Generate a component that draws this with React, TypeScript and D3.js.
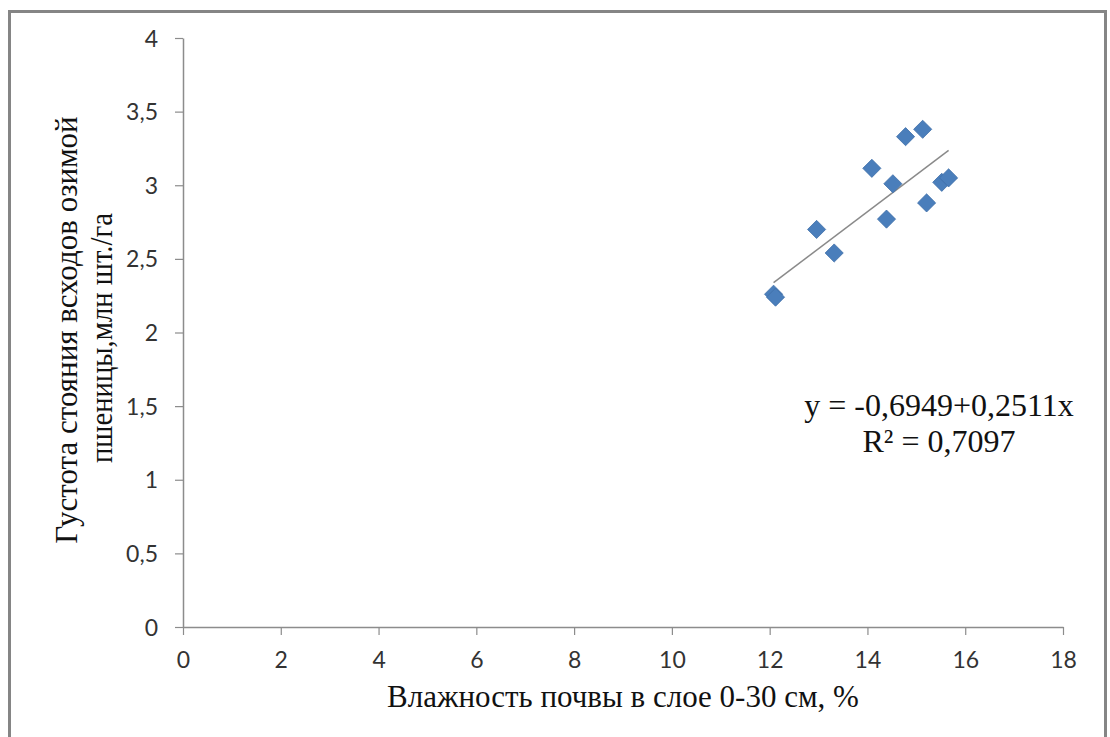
import React, { useEffect, useRef } from "react";
import * as d3 from "d3";

// soil moisture in 0-30 cm layer, %
const moisture = [12.08, 12.12, 12.96, 13.32, 14.09, 14.39, 14.52, 14.78, 15.13, 15.21, 15.52, 15.66];
// winter wheat seedling density, mln/ha
const density = [2.26, 2.24, 2.7, 2.54, 3.115, 2.77, 3.01, 3.33, 3.38, 2.88, 3.02, 3.05];

const xTicks = [0, 2, 4, 6, 8, 10, 12, 14, 16, 18];
const yTicks = [0, 0.5, 1, 1.5, 2, 2.5, 3, 3.5, 4];

const intercept = -0.6949;
const slope = 0.2511;
const eqLines = ["y = -0,6949+0,2511x", "R² = 0,7097"];
const xTitle = "Влажность почвы в слое 0-30 см, %";
const yTitle = ["Густота стояния всходов озимой", "пшеницы,млн шт./га"];

const W = 1110;
const H = 737;
const margin = { left: 183, right: 47, top: 38, bottom: 110 };

const App = () => {
  const ref = useRef(null);

  useEffect(() => {
    const svg = d3.select(ref.current);
    svg.selectAll("*").remove();

    const x = d3.scaleLinear().domain([0, 18]).range([margin.left, W - margin.right]);
    const y = d3.scaleLinear().domain([0, 4]).range([H - margin.bottom, margin.top]);

    svg.append("rect")
      .attr("x", 0).attr("y", 0).attr("width", W).attr("height", H)
      .attr("fill", "#fff");

    // outer frame
    svg.append("rect")
      .attr("x", 9.5).attr("y", 11.5).attr("width", 1096).attr("height", 740)
      .attr("fill", "none")
      .attr("stroke", "#858585")
      .attr("stroke-width", 3);

    const axisColor = "#8c8c8c";

    const xAxis = svg.append("g")
      .attr("transform", `translate(0,${y(0)})`)
      .call(d3.axisBottom(x).tickValues(xTicks).tickSize(8).tickSizeOuter(0).tickFormat(d3.format("d")));
    const yAxis = svg.append("g")
      .attr("transform", `translate(${x(0)},0)`)
      .call(d3.axisLeft(y).tickValues(yTicks).tickSize(8).tickSizeOuter(0)
        .tickFormat((d) => String(d).replace(".", ",")));

    [xAxis, yAxis].forEach((g) => {
      g.attr("font-size", 23).attr("font-family", "Lato, 'Open Sans', sans-serif");
      g.select(".domain").attr("stroke", axisColor).attr("stroke-width", 1.5);
      g.selectAll(".tick line").attr("stroke", axisColor).attr("stroke-width", 1.2);
      g.selectAll(".tick text").attr("fill", "#333");
    });
    xAxis.selectAll(".tick text").attr("y", 20).attr("dy", "0.9em");
    yAxis.selectAll(".tick text").attr("x", -25).attr("dy", "0.35em");

    // trend line
    const xMin = d3.min(moisture);
    const xMax = d3.max(moisture);
    svg.append("line")
      .attr("x1", x(xMin)).attr("y1", y(intercept + slope * xMin))
      .attr("x2", x(xMax)).attr("y2", y(intercept + slope * xMax))
      .attr("stroke", "#8a8a8a")
      .attr("stroke-width", 1.5);

    // markers
    const diamond = d3.symbol().type(d3.symbolDiamond2).size(210);
    svg.append("g")
      .selectAll("path")
      .data(moisture.map((m, i) => [m, density[i]]))
      .enter()
      .append("path")
      .attr("d", diamond)
      .attr("transform", (d) => `translate(${x(d[0])},${y(d[1])})`)
      .attr("fill", "#4a7ebb")
      .attr("stroke", "#3f6fa8")
      .attr("stroke-width", 0.8);

    const serif = "'Liberation Serif', 'Times New Roman', serif";

    // equation
    svg.append("text")
      .attr("x", 939).attr("y", 416)
      .attr("text-anchor", "middle")
      .style("font-family", serif)
      .style("font-size", "32px")
      .attr("fill", "#111")
      .selectAll("tspan")
      .data(eqLines)
      .enter().append("tspan")
      .attr("x", 939)
      .attr("dy", (d, i) => (i > 0 ? 36 : 0))
      .text((d) => d);

    // x title
    svg.append("text")
      .attr("x", 623).attr("y", 707)
      .attr("text-anchor", "middle")
      .style("font-family", serif)
      .style("font-size", "31px")
      .attr("fill", "#111")
      .text(xTitle);

    // y title
    const yt = svg.append("g").attr("transform", "translate(77,330) rotate(-90)");
    yt.append("text")
      .attr("text-anchor", "middle")
      .style("font-family", serif)
      .style("font-size", "31px")
      .attr("fill", "#111")
      .text(yTitle[0]);
    yt.append("text")
      .attr("x", -8 - 125).attr("y", 35)
      .attr("textLength", 250)
      .attr("lengthAdjust", "spacingAndGlyphs")
      .style("font-family", serif)
      .style("font-size", "31px")
      .attr("fill", "#111")
      .text(yTitle[1]);
  }, []);

  return (
    <svg
      ref={ref}
      width={W}
      height={H}
      style={{ position: "absolute", left: 0, top: 0 }}
    />
  );
};

export default App;
